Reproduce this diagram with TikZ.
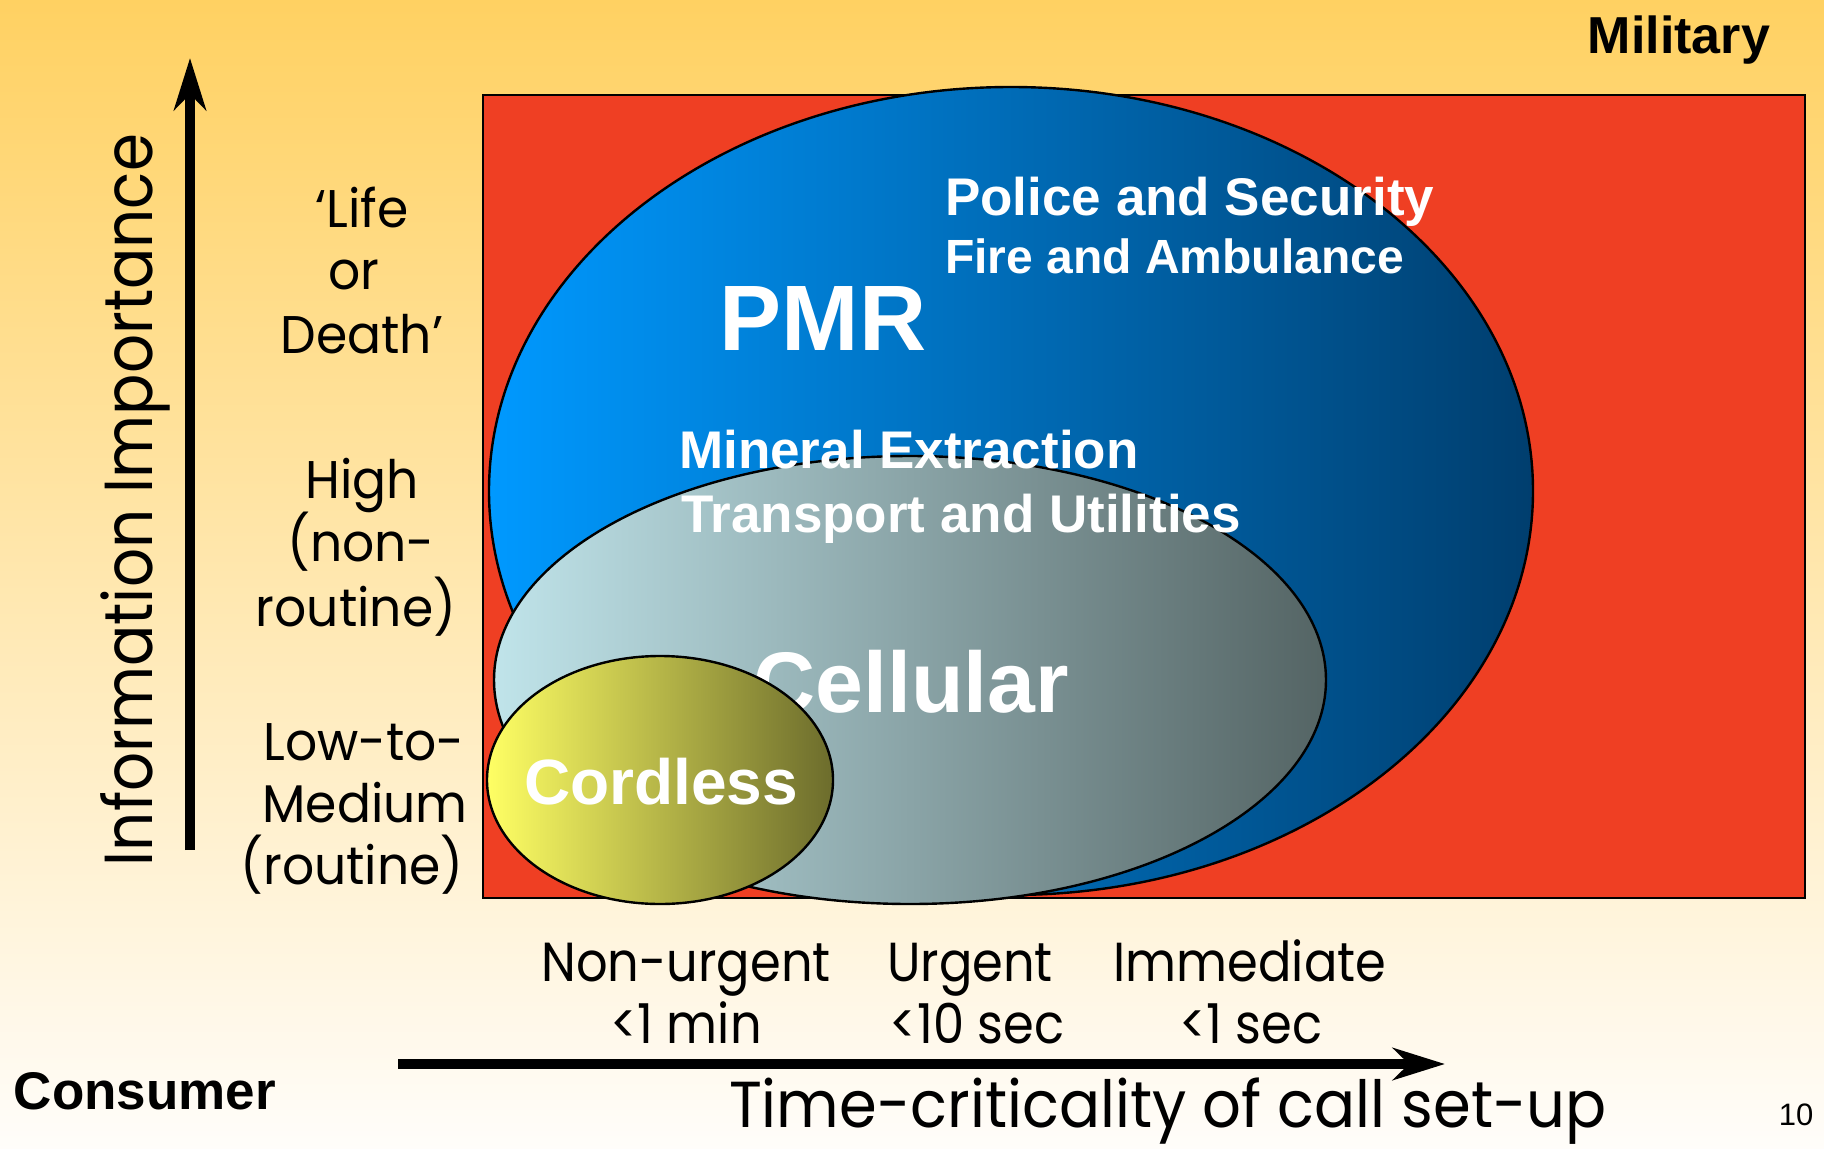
\documentclass[tikz,border=0pt]{standalone}
\usepackage{fontspec}
\setmainfont{Liberation Sans}
\newfontfamily\comicA[FakeStretch=0.9]{Poppins}
\newfontfamily\comicB[FakeStretch=0.95]{Poppins}
\newfontfamily\comicC[FakeStretch=0.935]{Poppins}
\usetikzlibrary{arrows.meta}
\definecolor{bgtop}{RGB}{255,209,98}
\definecolor{bgmid}{RGB}{255,237,196}
\definecolor{bgbot}{RGB}{255,253,250}
\definecolor{milred}{RGB}{239,63,35}
\definecolor{pmrL}{RGB}{0,153,255}
\definecolor{pmrM}{RGB}{0,114,200}
\definecolor{pmrR}{RGB}{0,62,110}
\definecolor{celL}{RGB}{192,228,234}
\definecolor{celM}{RGB}{152,185,188}
\definecolor{celR}{RGB}{84,100,100}
\definecolor{corL}{RGB}{255,255,100}
\definecolor{corM}{RGB}{200,196,78}
\definecolor{corR}{RGB}{108,108,44}
\tikzset{
  outline/.style={draw=black, line width=2.4pt},
  bigarrow/.style={line width=10pt, -{Stealth[length=52pt,width=32pt,inset=16pt]}},
  boldlbl/.style={font=\bfseries, text=white, inner sep=0pt, anchor=base west},
  comiclbl/.style={inner sep=0pt, anchor=base},
}
\begin{document}
\begin{tikzpicture}[x=1pt,y=-1pt]
\useasboundingbox (0,0) rectangle (1824,1149);
% background
\shade[top color=bgtop, middle color=bgmid, bottom color=bgbot] (0,0) rectangle (1824,1149);
% military area
\draw[outline, fill=milred] (483,95) rectangle (1805,898);
% PMR
\path[outline, left color=pmrL, middle color=pmrM, right color=pmrR]
  (1011,491) ellipse [x radius=522pt, y radius=404pt];
% Cellular
\path[outline, left color=celL, middle color=celM, right color=celR]
  (910,680) ellipse [x radius=416pt, y radius=224pt];
\node[font=\bfseries\fontsize{86}{86}\selectfont, text=white, inner sep=0pt, anchor=base] (cel) at (911,712) {Cellular};
% Cordless
\path[outline, left color=corL, middle color=corM, right color=corR]
  (660,780) ellipse [x radius=173pt, y radius=124pt];
\node[font=\bfseries\fontsize{64}{64}\selectfont, text=white, inner sep=0pt, anchor=base] (cor) at (661,804) {Cordless};
% PMR texts
\node[font=\bfseries\fontsize{93}{93}\selectfont, text=white, inner sep=0pt, anchor=base] (pmr) at (823,350) {PMR};
\node[boldlbl, font=\bfseries\fontsize{53}{53}\selectfont] (police) at (945,215) {Police and Security};
\node[boldlbl, font=\bfseries\fontsize{48}{48}\selectfont] (fire) at (945,273) {Fire and Ambulance};
\node[boldlbl, font=\bfseries\fontsize{53}{53}\selectfont] (mineral) at (679,468) {Mineral Extraction};
\node[boldlbl, font=\bfseries\fontsize{53}{53}\selectfont] (transport) at (681,532) {Transport and Utilities};
% corner labels
\node[font=\bfseries\fontsize{52}{52}\selectfont, inner sep=0pt, anchor=base] (mil) at (1679,53) {Military};
\node[font=\bfseries\fontsize{53}{53}\selectfont, inner sep=0pt, anchor=base] (cons) at (145,1109) {Consumer};
\node[font=\fontsize{31}{31}\selectfont, inner sep=0pt, anchor=base] (pg) at (1796,1125) {10};
% axes
\coordinate (ybot) at (190,850);
\coordinate (ytop) at (190,58);
\coordinate (xleft) at (398,1064);
\coordinate (xright) at (1445,1064);
\draw[bigarrow] (ybot) -- (ytop);
\draw[bigarrow] (xleft) -- (xright);
\node[comiclbl, rotate=90, font=\comicA\fontsize{68}{68}\selectfont] (yt) at (152,500) {Information Importance};
\node[comiclbl, font=\comicC\fontsize{65}{65}\selectfont] (xt) at (1168,1127) {Time-criticality of call set-up};
% y labels
\begin{scope}[every node/.style={comiclbl, font=\comicB\fontsize{53}{53}\selectfont}]
\node (l1) at (362,227) {‘Life};
\node (l2) at (354,289) {or};
\node (l3) at (362,353) {Death’};
\node (h1) at (362,498) {High};
\node (h2) at (361,561) {(non-};
\node (h3) at (356,626) {routine)};
\node (m1) at (364,760) {Low-to-};
\node (m2) at (365,822) {Medium};
\node (m3) at (352,884) {(routine)};
\end{scope}
% x labels
\begin{scope}[every node/.style={comiclbl, font=\comicA\fontsize{55}{55}\selectfont}]
\node (n1) at (686,981) {Non-urgent};
\node (n2) at (686,1043) {<1 min};
\node (u1) at (970,981) {Urgent};
\node (u2) at (977,1043) {<10 sec};
\node (i1) at (1250,981) {Immediate};
\node (i2) at (1251,1043) {<1 sec};
\end{scope}
\end{tikzpicture}
\end{document}
